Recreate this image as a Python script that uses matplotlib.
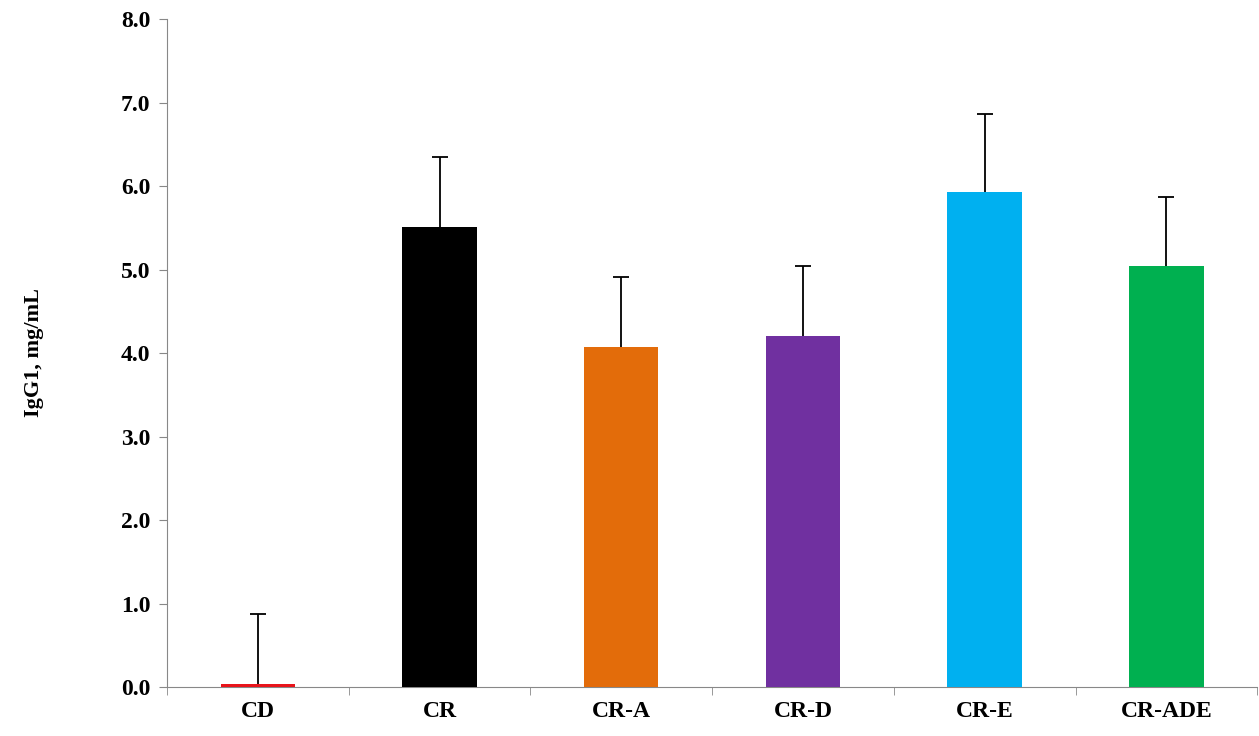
import matplotlib
matplotlib.use("Agg")
import matplotlib.pyplot as plt
import numpy as np

categories = ["CD", "CR", "CR-A", "CR-D", "CR-E", "CR-ADE"]
values = [0.04, 5.51, 4.07, 4.20, 5.93, 5.04]
errors = [0.84, 0.84, 0.84, 0.84, 0.93, 0.83]
colors = ["#E8141B", "#000000", "#E36C0A", "#7030A0", "#00B0F0", "#00B050"]

plt.rcParams['font.family'] = ['Liberation Serif', 'DejaVu Serif']
plt.rcParams['font.weight'] = 'bold'
fig = plt.figure(figsize=(12.59, 7.36), dpi=100)
ax = fig.add_axes([0.1326, 0.0666, 0.866, 0.9074])
x = np.arange(len(categories))
ax.bar(x, values, width=0.41, color=colors, zorder=3)
eb = ax.errorbar(x, values, yerr=[np.zeros(len(values)), errors], fmt='none',
                 ecolor='black', elinewidth=1.3, capsize=6, capthick=1.3, zorder=2)
caplines = eb[1]
if len(caplines) == 2:
    caplines[0].set_visible(False)
ax.set_xlim(-0.5, len(categories) - 0.5)
ax.set_ylim(0, 8)
ax.set_yticks(np.arange(0, 8.01, 1.0))
ax.set_yticklabels([f"{v:.1f}" for v in np.arange(0, 8.01, 1.0)], fontsize=17, fontweight='bold')
ax.set_xticks(x)
ax.set_xticklabels(categories, fontsize=17, fontweight='bold')
ax.tick_params(axis='x', length=0, pad=10)
ax.set_xticks(np.arange(-0.5, len(categories), 1.0), minor=True)
ax.tick_params(axis='x', which='minor', length=6, color='#888888')
ax.tick_params(axis='y', length=6, color='#888888', pad=6)
for s in ['top', 'right']:
    ax.spines[s].set_visible(False)
ax.spines['left'].set_color('#888888')
ax.spines['bottom'].set_color('#888888')
ax.set_ylabel("IgG1, mg/mL", fontsize=16, fontweight='bold')
ax.yaxis.set_label_coords(-0.113, 0.5)
fig.savefig("out.png", dpi=100)
